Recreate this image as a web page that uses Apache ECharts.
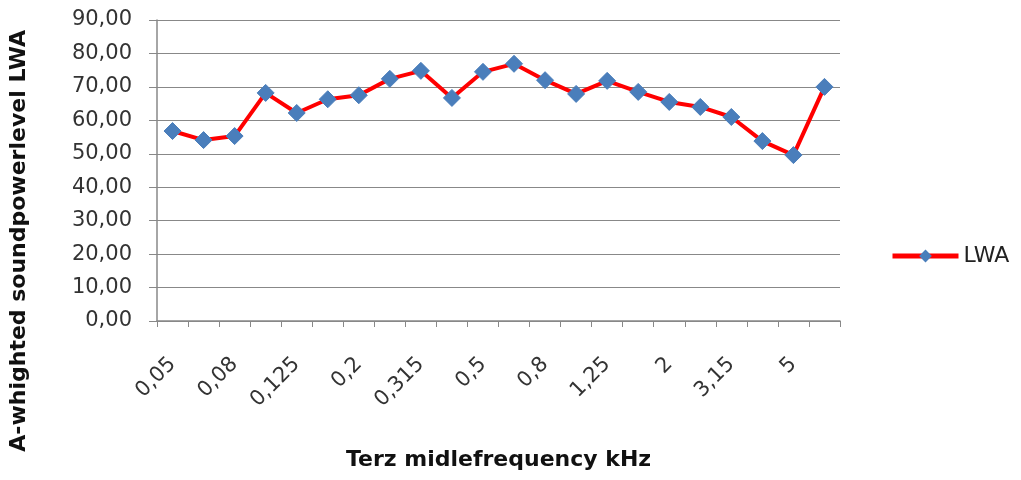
<!DOCTYPE html>
<html><head><meta charset="utf-8">
<script src="https://cdn.jsdelivr.net/npm/echarts@6/dist/echarts.min.js"></script>
<style>html,body{margin:0;padding:0;background:#fff}#c{width:1021px;height:480px}</style>
</head><body><div id="c"></div>
<script>
const categories = ['0,05','0,063','0,08','0,1','0,125','0,16','0,2','0,25','0,315','0,4','0,5','0,63','0,8','1','1,25','1,6','2','2,5','3,15','4','5','6,3'];
const lwa = [56.8,54.1,55.3,68.2,62.2,66.3,67.5,72.4,74.8,66.7,74.5,76.9,72.0,67.9,71.8,68.5,65.5,64.0,61.0,53.8,49.6,70.0];
const yTicks = {min:0, max:90, interval:10};
const chart = echarts.init(document.getElementById('c'));
const font = 'DejaVu Sans';
chart.setOption({
  animation:false,
  backgroundColor:'#fff',
  grid:{left:157,right:181,top:20,bottom:159,outerBoundsMode:'none',containLabel:false},
  legend:{left:885,top:240,orient:'vertical',itemWidth:66,itemHeight:16,itemGap:4,
    lineStyle:{width:5,color:'#ff0000'},
    textStyle:{fontFamily:font,fontSize:22,color:'#222'},data:['LWA']},
  xAxis:{type:'category',data:categories,boundaryGap:true,
    name:'Terz midlefrequency kHz',nameLocation:'middle',nameGap:128,
    nameTextStyle:{fontFamily:font,fontSize:22,fontWeight:'bold',color:'#111'},
    axisLine:{lineStyle:{color:'#888',width:1.5}},
    axisTick:{show:true,alignWithLabel:false,interval:0,length:6,lineStyle:{color:'#888'}},
    axisLabel:{interval:1,rotate:45,fontFamily:font,fontSize:21,color:'#333',margin:40}},
  yAxis:{type:'value',min:yTicks.min,max:yTicks.max,interval:yTicks.interval,
    axisLine:{show:true,lineStyle:{color:'#888',width:1.5}},
    axisTick:{show:true,length:8,lineStyle:{color:'#888'}},
    splitLine:{lineStyle:{color:'#888',width:1.2}},
    axisLabel:{fontFamily:font,fontSize:21,color:'#333',margin:25,
      formatter:v=>v.toFixed(2).replace('.',',')}},
  graphic:[{type:'text',left:8,top:30,rotation:Math.PI/2,
    style:{text:'A-whighted soundpowerlevel LWA',fontFamily:font,fontSize:22,fontWeight:'bold',fill:'#111'}}],
  series:[{name:'LWA',type:'line',data:lwa,symbol:'diamond',symbolSize:17,
    lineStyle:{color:'#ff0000',width:4},
    itemStyle:{color:'#4a7ebb',borderColor:'#4a7ebb'}}]
});
</script></body></html>
